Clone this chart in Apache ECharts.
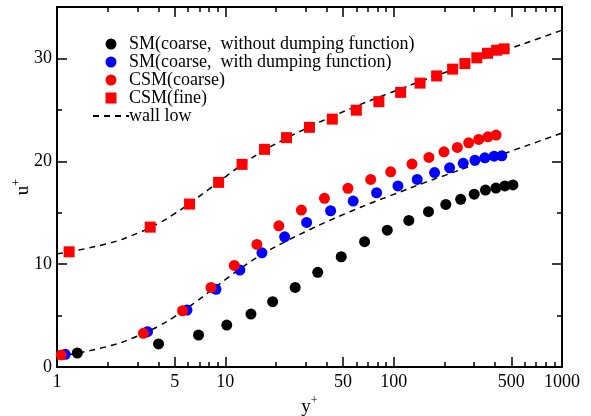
<!DOCTYPE html>
<html>
<head>
<meta charset="utf-8">
<script src="https://cdn.jsdelivr.net/npm/echarts@6/dist/echarts.min.js"></script>
<style>
  html, body { margin: 0; padding: 0; background: #fff; }
  #chart { width: 591px; height: 416px; }
</style>
</head>
<body>
<div id="chart"></div>
<script>
// y+ / u+ values
var smNoDampY = [1.32, 4.01, 6.93, 10.2, 14.2, 19.1, 26, 35.4, 48.8, 67.2, 91.6, 123, 161, 204, 250, 301, 351, 405, 458, 511]
var smNoDampU = [1.36, 2.24, 3.11, 4.08, 5.15, 6.35, 7.74, 9.2, 10.72, 12.18, 13.3, 14.25, 15.1, 15.8, 16.3, 16.8, 17.2, 17.4, 17.6, 17.7]

var smDampY = [1.12, 3.45, 5.92, 8.8, 12.2, 16.5, 22.5, 30.4, 42.2, 57.5, 79.2, 106, 138, 175, 215, 259, 304, 348, 395, 439]
var smDampU = [1.23, 3.43, 5.54, 7.55, 9.43, 11.1, 12.66, 14.06, 15.19, 16.13, 16.94, 17.6, 18.24, 18.9, 19.37, 19.8, 20.1, 20.34, 20.5, 20.53]

var csmCoarseY = [1.06, 3.26, 5.57, 8.22, 11.3, 15.4, 20.8, 28.3, 38.8, 53.5, 73, 96, 128.5, 162, 199, 239, 279, 320, 363, 406]
var csmCoarseU = [1.17, 3.27, 5.47, 7.74, 9.88, 11.92, 13.73, 15.26, 16.4, 17.37, 18.24, 18.98, 19.73, 20.38, 20.92, 21.35, 21.8, 22.13, 22.38, 22.55]

var csmFineY = [1.18, 3.58, 6.13, 9.12, 12.57, 17.1, 23.1, 31.6, 43.2, 60, 81.7, 110, 143.5, 180, 224, 265, 312, 361, 409, 453]
var csmFineU = [11.2, 13.6, 15.84, 17.95, 19.7, 21.16, 22.3, 23.3, 24.1, 24.97, 25.8, 26.7, 27.6, 28.3, 28.96, 29.5, 30.06, 30.5, 30.8, 30.93]

// dashed wall law (upper one for the fine grid)
var wallY = [1, 2, 3, 4, 5, 6, 8, 10, 13.4, 17, 22, 30, 40, 55, 75, 100, 150, 200, 300, 500, 700, 1000]
var wallLowU = [1.0, 2.0, 3.0, 3.96, 4.9, 5.79, 7.29, 8.49, 10.0, 11.06, 12.07, 13.17, 14.12, 15.1, 16.0, 16.78, 17.88, 18.61, 19.67, 21.0, 21.84, 22.75]
var wallHighU = [11.0, 12.0, 13.0, 13.96, 14.9, 15.79, 17.29, 18.49, 20.0, 21.06, 22.07, 23.17, 24.12, 25.1, 26.0, 26.78, 27.88, 28.61, 29.67, 31.0, 31.84, 32.75]

var xLabels = [1, 5, 10, 50, 100, 500, 1000]
var xMinor = [2, 3, 4, 6, 7, 8, 9, 20, 30, 40, 60, 70, 80, 90, 200, 300, 400, 600, 700, 800, 900]
var yLabels = [0, 10, 20, 30]
var yMinor = [5, 15, 25]

var legendNames = ['SM(coarse,  without dumping function)', 'SM(coarse,  with dumping function)', 'CSM(coarse)', 'CSM(fine)', 'wall low']

function pairs(xs, ys) {
  return xs.map(function (x, i) { return [x, ys[i]] })
}

var font = "'Liberation Serif', 'Times New Roman', 'DejaVu Serif', serif"
var black = '#000'

var nameStyle = {
  color: black, fontFamily: font, fontSize: 18,
  rich: {
    i: { fontFamily: font, fontSize: 19, color: black },
    s: { fontFamily: font, fontSize: 12, color: black, padding: [0, 0, 12, 0] }
  }
}

function xAxis(pos, major, showLabel) {
  return {
    type: 'log', logBase: 10, min: 1, max: 1000, position: pos,
    axisLine: { show: major, onZero: false, lineStyle: { color: black, width: 2 } },
    axisTick: { show: true, inside: true, length: major ? 10 : 5, customValues: major ? xLabels : xMinor,
      lineStyle: { color: black, width: 1.5 } },
    axisLabel: { show: showLabel, customValues: xLabels, color: black, fontFamily: font, fontSize: 18, margin: 6,
      formatter: function (v) { return String(v) } },
    splitLine: { show: false },
    minorTick: { show: false },
    name: showLabel ? '{i|y}{s|+}' : '',
    nameLocation: 'middle', nameGap: 28, nameMoveOverlap: false,
    nameTextStyle: nameStyle
  }
}

function yAxis(pos, major, showLabel) {
  return {
    type: 'value', min: 0, max: 35, position: pos,
    axisLine: { show: major, onZero: false, lineStyle: { color: black, width: 2 } },
    axisTick: { show: true, inside: true, length: major ? 10 : 5, customValues: major ? yLabels : yMinor,
      lineStyle: { color: black, width: 1.5 } },
    axisLabel: { show: showLabel, customValues: yLabels, color: black, fontFamily: font, fontSize: 18, margin: 5 },
    splitLine: { show: false },
    name: showLabel ? '{i|u}{s|+}' : '',
    nameLocation: 'middle', nameRotate: 90, nameGap: 22, nameMoveOverlap: false,
    nameTextStyle: nameStyle
  }
}

var chart = echarts.init(document.getElementById('chart'))
chart.setOption({
  animation: false,
  backgroundColor: '#fff',
  grid: { left: 57, right: 29, top: 7, bottom: 49, containLabel: false, outerBoundsMode: 'none' },
  legend: {
    orient: 'vertical',
    left: 92,
    top: 35,
    padding: 0,
    itemWidth: 36,
    itemHeight: 11,
    itemGap: 0,
    textStyle: { color: black, fontFamily: font, fontSize: 18, lineHeight: 18, padding: [0, 0, 0, -5] },
    data: [
      { name: legendNames[0], icon: 'circle' },
      { name: legendNames[1], icon: 'circle' },
      { name: legendNames[2], icon: 'circle' },
      { name: legendNames[3], icon: 'path://M0,0H10V10H0Z' },
      { name: legendNames[4] }
    ]
  },
  xAxis: [
    xAxis('bottom', true, true),
    xAxis('bottom', false, false),
    xAxis('top', true, false),
    xAxis('top', false, false)
  ],
  yAxis: [
    yAxis('left', true, true),
    yAxis('left', false, false),
    yAxis('right', true, false),
    yAxis('right', false, false)
  ],
  series: [
    {
      name: legendNames[4], type: 'line', symbol: 'none', smooth: true, z: 1,
      itemStyle: { color: 'rgba(0,0,0,0)' },
      lineStyle: { color: black, width: 1.5, type: [6, 5] },
      data: pairs(wallY, wallLowU)
    },
    {
      name: legendNames[4], type: 'line', symbol: 'none', smooth: true, z: 1,
      itemStyle: { color: 'rgba(0,0,0,0)' },
      lineStyle: { color: black, width: 1.5, type: [6, 5] },
      data: pairs(wallY, wallHighU)
    },
    {
      name: legendNames[0], type: 'scatter', symbol: 'circle', symbolSize: 11, z: 3,
      itemStyle: { color: '#000000', opacity: 1 },
      data: pairs(smNoDampY, smNoDampU)
    },
    {
      name: legendNames[1], type: 'scatter', symbol: 'circle', symbolSize: 11, z: 3,
      itemStyle: { color: '#0000ff', opacity: 1 },
      data: pairs(smDampY, smDampU)
    },
    {
      name: legendNames[2], type: 'scatter', symbol: 'circle', symbolSize: 11, z: 4,
      itemStyle: { color: '#ff0000', opacity: 1 },
      data: pairs(csmCoarseY, csmCoarseU)
    },
    {
      name: legendNames[3], type: 'scatter', symbol: 'rect', symbolSize: 11, z: 3,
      itemStyle: { color: '#ff0000', opacity: 1 },
      data: pairs(csmFineY, csmFineU)
    }
  ]
})
</script>
</body>
</html>
